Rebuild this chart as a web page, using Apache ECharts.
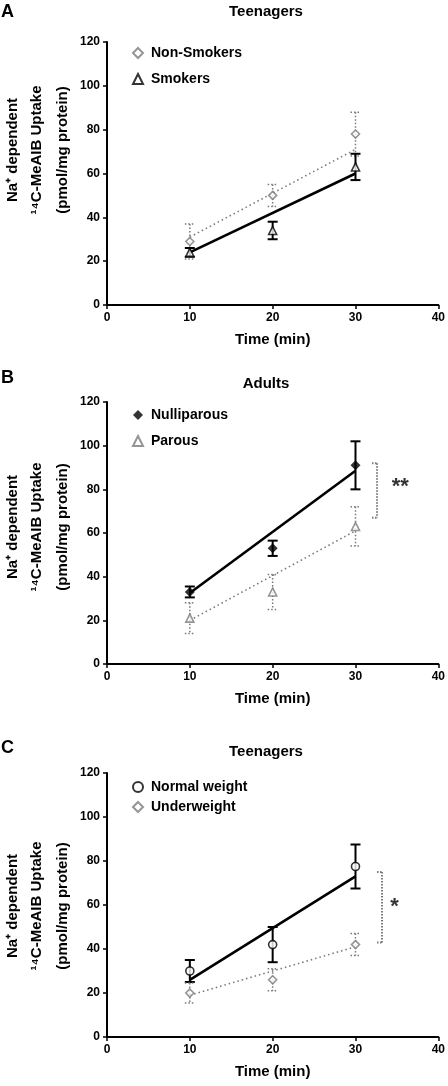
<!DOCTYPE html>
<html>
<head>
<meta charset="utf-8">
<script src="https://cdn.jsdelivr.net/npm/echarts@6/dist/echarts.min.js"></script>
<style>
html,body{margin:0;padding:0;background:#fff;}
#chart{width:448px;height:1086px;}
</style>
</head>
<body>
<div id="chart"></div>
<script>
// ---- Data ----
var times = [10, 20, 30];
var xTicks = [0, 10, 20, 30, 40];
var yTicks = [0, 20, 40, 60, 80, 100, 120];
var fitX = [10, 30];

// Panel A - Teenagers
var nonSmokersMean = [29, 50, 78];
var nonSmokersErr  = [8, 5, 10];
var smokersMean    = [24, 34, 63];
var smokersErr     = [2, 4, 6];
var nonSmokersFit  = [31, 71];
var smokersFit     = [24, 60];

// Panel B - Adults
var nulliparousMean = [33, 53, 91];
var nulliparousErr  = [2.5, 3.5, 11];
var parousMean      = [21, 33, 63];
var parousErr       = [7, 8, 9];
var nulliparousFit  = [32.5, 88.5];
var parousFit       = [20, 61];
var bracketB        = [32.6, 67, 92];
var starsB          = [35.4, 81, '**'];

// Panel C - Teenagers
var normalMean = [30, 42, 77.5];
var normalErr  = [5, 8, 10];
var underMean  = [20, 26, 42];
var underErr   = [4.5, 5, 5];
var normalFit  = [26, 73];
var underFit   = [19, 41];
var bracketC   = [33.2, 43, 75];
var starsC     = [34.7, 59, '*'];

// ---- Chart ----
var BLACK = '#000';
var GRAY = '#7a7a7a';
var FONT = '"Liberation Sans", Arial, sans-serif';

var grids = [
  {left: 107, width: 333, top: 42, height: 263},
  {left: 107, width: 333, top: 402, height: 262},
  {left: 107, width: 333, top: 773, height: 264}
];

function xAx(i) {
  return {
    type: 'value', gridIndex: i, min: 0, max: 40, interval: 10,
    name: 'Time (min)', nameLocation: 'middle', nameGap: 27,
    nameTextStyle: {fontFamily: FONT, fontWeight: 'bold', fontSize: 15, color: BLACK},
    axisLine: {lineStyle: {color: BLACK, width: 2}},
    axisTick: {show: true, length: 4, lineStyle: {color: BLACK, width: 1.5}},
    axisLabel: {fontFamily: FONT, fontWeight: 'bold', fontSize: 12, color: BLACK, margin: 7},
    splitLine: {show: false}
  };
}
function yAx(i) {
  return {
    type: 'value', gridIndex: i, min: 0, max: 120, interval: 20,
    axisLine: {show: true, lineStyle: {color: BLACK, width: 2}},
    axisTick: {show: true, length: 4, lineStyle: {color: BLACK, width: 1.5}},
    axisLabel: {fontFamily: FONT, fontWeight: 'bold', fontSize: 12, color: BLACK, margin: 7},
    splitLine: {show: false}
  };
}

function pts(mean) { return times.map(function (t, i) { return [t, mean[i]]; }); }
function errs(mean, err) { return times.map(function (t, i) { return [t, mean[i] - err[i], mean[i] + err[i]]; }); }
function fitPts(fit) { return fitX.map(function (t, i) { return [t, fit[i]]; }); }

function errRender(color, dotted) {
  return function (params, api) {
    var x = api.value(0), lo = api.value(1), hi = api.value(2);
    var p1 = api.coord([x, hi]), p2 = api.coord([x, lo]);
    var w = 5;
    var st = {stroke: color, lineWidth: dotted ? 1.5 : 2, lineDash: dotted ? [1.5, 2] : null};
    return {type: 'group', children: [
      {type: 'line', shape: {x1: p1[0], y1: p1[1], x2: p2[0], y2: p2[1]}, style: st},
      {type: 'line', shape: {x1: p1[0] - w, y1: p1[1], x2: p1[0] + w, y2: p1[1]}, style: st},
      {type: 'line', shape: {x1: p2[0] - w, y1: p2[1], x2: p2[0] + w, y2: p2[1]}, style: st}
    ]};
  };
}
function bracketRender(params, api) {
  var x = api.value(0), lo = api.value(1), hi = api.value(2);
  var p1 = api.coord([x, hi]), p2 = api.coord([x, lo]);
  var st = {stroke: GRAY, lineWidth: 2, lineDash: [1.5, 1.5]};
  return {type: 'group', children: [
    {type: 'line', shape: {x1: p1[0], y1: p1[1], x2: p2[0], y2: p2[1]}, style: st},
    {type: 'line', shape: {x1: p1[0] - 5, y1: p1[1], x2: p1[0], y2: p1[1]}, style: st},
    {type: 'line', shape: {x1: p2[0] - 5, y1: p2[1], x2: p2[0], y2: p2[1]}, style: st}
  ]};
}

var series = [];
function addGroup(gi, name, mean, err, fit, color, dotted, symbol, size, filled) {
  series.push({
    type: 'line', xAxisIndex: gi, yAxisIndex: gi, data: fitPts(fit), symbol: 'none',
    lineStyle: {color: color, width: dotted ? 1.6 : 2.6, type: dotted ? [1.5, 3] : 'solid'},
    silent: true, z: 2
  });
  series.push({
    type: 'custom', xAxisIndex: gi, yAxisIndex: gi, data: errs(mean, err),
    renderItem: errRender(color, dotted), encode: {x: 0, y: [1, 2]}, z: 3, silent: true
  });
  series.push({
    type: 'scatter', name: name, xAxisIndex: gi, yAxisIndex: gi, data: pts(mean),
    symbol: symbol, symbolSize: size,
    itemStyle: {color: filled ? color : '#fff', borderColor: color, borderWidth: filled ? 0 : 1.6},
    z: 4
  });
}
addGroup(0, 'Non-Smokers', nonSmokersMean, nonSmokersErr, nonSmokersFit, GRAY, true, 'diamond', 8, false);
addGroup(0, 'Smokers', smokersMean, smokersErr, smokersFit, BLACK, false, 'triangle', 8, false);
addGroup(1, 'Nulliparous', nulliparousMean, nulliparousErr, nulliparousFit, BLACK, false, 'diamond', 10, true);
addGroup(1, 'Parous', parousMean, parousErr, parousFit, GRAY, true, 'triangle', 8, false);
addGroup(2, 'Normal weight', normalMean, normalErr, normalFit, BLACK, false, 'circle', 8, false);
addGroup(2, 'Underweight', underMean, underErr, underFit, GRAY, true, 'diamond', 8, false);

[[1, bracketB, starsB], [2, bracketC, starsC]].forEach(function (b) {
  series.push({
    type: 'custom', xAxisIndex: b[0], yAxisIndex: b[0], data: [b[1]],
    renderItem: bracketRender, encode: {x: 0, y: [1, 2]}, silent: true
  });
  series.push({
    type: 'scatter', xAxisIndex: b[0], yAxisIndex: b[0], data: [[b[2][0], b[2][1]]],
    symbolSize: 0, silent: true,
    label: {show: true, position: 'inside', formatter: b[2][2], fontFamily: FONT, fontWeight: 'bold', fontSize: 22, color: BLACK}
  });
});

function legend(top, names, gap) {
  return {
    data: names, orient: 'vertical', left: 127, top: top, itemGap: gap,
    itemWidth: 10, itemHeight: 10, selectedMode: false,
    textStyle: {fontFamily: FONT, fontWeight: 'bold', fontSize: 14, color: BLACK, padding: [0, 0, 0, 3]}
  };
}

var yTitle = ['Na\u207A dependent', '\u00B9\u2074C-MeAIB Uptake', '(pmol/mg protein)'];
var graphics = [];
var panelCenters = [150, 527, 906];
var lineX = [13, 37, 63];
panelCenters.forEach(function (cy) {
  yTitle.forEach(function (t, k) {
    graphics.push({
      type: 'text', x: lineX[k], y: cy, rotation: Math.PI / 2,
      style: {text: t, x: 0, y: 0, textAlign: 'center', textVerticalAlign: 'middle',
              font: 'bold 15px ' + FONT, fill: BLACK}
    });
  });
});
var letters = [['A', 12], ['B', 378], ['C', 748]];
letters.forEach(function (l) {
  graphics.push({type: 'text', x: 1, y: l[1], style: {text: l[0], x: 0, y: 0, textVerticalAlign: 'middle', font: 'bold 18px ' + FONT, fill: BLACK}});
});
var titles = [['Teenagers', 12], ['Adults', 384], ['Teenagers', 752]];
titles.forEach(function (t) {
  graphics.push({type: 'text', x: 266, y: t[1], style: {text: t[0], x: 0, y: 0, textAlign: 'center', textVerticalAlign: 'middle', font: 'bold 15px ' + FONT, fill: BLACK}});
});

var chart = echarts.init(document.getElementById('chart'));
chart.setOption({
  backgroundColor: '#fff',
  animation: false,
  grid: grids,
  xAxis: [xAx(0), xAx(1), xAx(2)],
  yAxis: [yAx(0), yAx(1), yAx(2)],
  legend: [
    legend(41, ['Non-Smokers', 'Smokers'], 12),
    legend(403, ['Nulliparous', 'Parous'], 12),
    legend(775, ['Normal weight', 'Underweight'], 6)
  ],
  graphic: graphics,
  series: series
});
</script>
</body>
</html>
